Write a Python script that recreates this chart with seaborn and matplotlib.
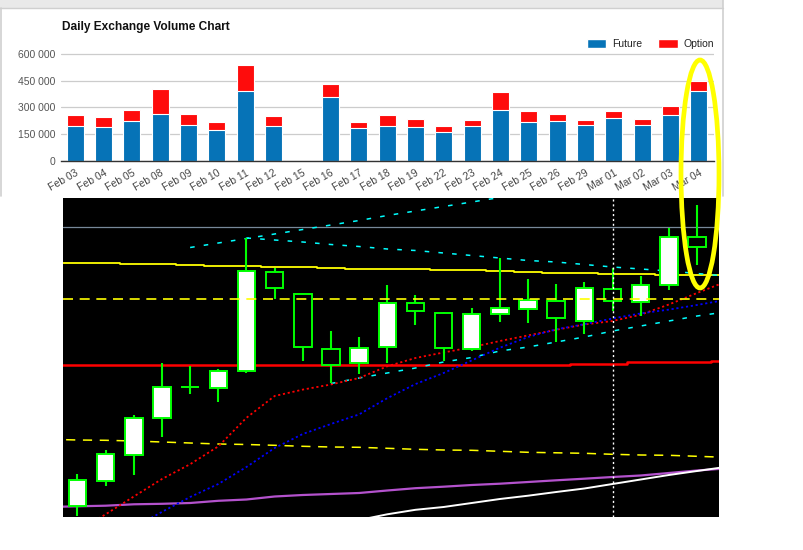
import numpy as np
import pandas as pd
import seaborn as sns
import matplotlib.pyplot as plt
from matplotlib.patches import Patch, Ellipse, Rectangle

# ---- volume data (top chart) ----
dates = ["Feb 03", "Feb 04", "Feb 05", "Feb 08", "Feb 09", "Feb 10", "Feb 11", "Feb 12",
         "Feb 15", "Feb 16", "Feb 17", "Feb 18", "Feb 19", "Feb 22", "Feb 23", "Feb 24",
         "Feb 25", "Feb 26", "Feb 29", "Mar 01", "Mar 02", "Mar 03", "Mar 04"]
future = [198000, 192000, 226000, 265000, 205000, 176000, 394000, 198000,
          0, 359000, 183000, 198000, 192000, 163000, 198000, 287000,
          220000, 226000, 203000, 242000, 203000, 259000, 392000]
option = [59000, 54000, 59000, 137000, 58000, 42000, 141000, 54000,
          0, 70000, 35000, 59000, 43000, 33000, 31000, 98000,
          59000, 37000, 26000, 37000, 32000, 48000, 54000]

# ---- price data (candles) ----
opens = [94, 119.3, 145, 182.3, 212.7, 212.3, 229.3, 327.7, 306, 251, 237.3, 253.3,
         297, 286.7, 251, 286.3, 291.3, 298.7, 279.3, 311, 297.7, 314.7, 363]
highs = [126, 150, 185, 237, 234.3, 231.3, 362, 332, 306, 269, 263, 315,
         305, 288, 291.7, 341.7, 321, 316, 317.7, 332, 324, 372.3, 395]
lows = [84.3, 114.3, 125.3, 163.3, 206.3, 198.3, 227.3, 300.7, 239.3, 217, 226, 236.7,
        275, 239.3, 249.3, 278.3, 277.3, 258.3, 266.3, 289.3, 284.3, 310.3, 335.3]
closes = [120, 146, 182, 213, 212.7, 229, 328.7, 311.7, 253.3, 235, 251.7, 296.7,
          289.3, 252.3, 286, 291.7, 300, 282.3, 311.7, 299.3, 314.7, 363, 352.7]

# ---- indicators, one value per bar, index -1 .. 23 ----
ind_idx = list(range(-1, 24))
ma_fast = [np.nan, 69, 85.7, 103.5, 121, 135.8, 153.6, 182.2, 204, 210.4, 215.5, 222, 233.7,
           242, 247.5, 252.8, 259, 264.6, 270.2, 275.5, 279, 285.3, 295.5, 307, 318]
ma_slow = [np.nan, 41, 57, 72.4, 88.1, 103, 116, 133, 152, 166, 176, 185.6, 201.8,
           215.9, 227, 239.6, 252.3, 263, 270.7, 275.8, 281.5, 286.6, 290.4, 295, 300]
band_up = [np.nan] * 5 + [352.5, 357, 361.5, 366, 370.5, 375, 379.5, 384.5, 389, 393.5,
                          398, 402.5, 407] + [np.nan] * 7
band_mid = [np.nan] * 7 + [362, 360, 358, 355.5, 353.5, 351, 349.5, 347, 344.5, 342, 339.5,
                           338, 335.5, 333, 331, 329, 326.5, 324]
band_low = [np.nan] * 10 + [216.5, 222, 227, 232, 238, 242.5, 249, 253, 258, 263, 269,
                            274, 279, 284, 288]
yellow_hi = [337.3, 337.3, 336.7, 335.7, 335.7, 334.7, 334, 334, 333, 333, 332, 331.3, 331.3,
             331, 329.7, 329.7, 328.7, 328, 327.3, 326.7, 326, 326, 324.7, 324.7, 324.7]
yellow_lo = [160.7, 160, 159.7, 159, 158, 157, 156, 155.5, 154.7, 153.7, 153, 152.7, 151.7,
             150.7, 150, 149.7, 148.7, 147.7, 147.2, 146.7, 145.7, 145, 144.7, 143.7, 142.7]
red_level = [235] * 19 + [236.5, 236.5, 238, 238, 238, 239.3]
purple = [93, 93.7, 94.3, 95.7, 96.2, 97, 99.2, 100.5, 103.5, 105, 106, 107, 109.5, 111.8,
          113.3, 115, 116.3, 118, 119.7, 121.3, 123, 124.5, 127, 129.5, 131.5]
white_ln = [np.nan] * 11 + [80, 85.7, 90.2, 93, 97, 101, 104.3, 108, 111.5, 116, 120.5,
                            125, 129, 133]
gray_level = 372.7
dash_level = 300.7
marker_bar = 19

sns.set_style("white")
plt.rcParams['font.family'] = ['Liberation Sans', 'DejaVu Sans']

W, H = 804, 550
fig = plt.figure(figsize=(W / 100, H / 100), dpi=100)
fig.patch.set_facecolor("white")

# background frame of the volume panel (pixel coords)
bg = fig.add_axes([0, 0, 1, 1], zorder=-5)
bg.set_xlim(0, W)
bg.set_ylim(H, 0)
bg.axis("off")
bg.add_patch(Rectangle((0, 0), 723, 8, facecolor="#e9e9e9", edgecolor="none"))
bg.plot([0, 723], [8, 8], color="#cfcfcf", lw=1)
bg.plot([0.8, 0.8], [8, 196], color="#cfcfcf", lw=1.2)
bg.plot([723, 723], [0, 196], color="#cfcfcf", lw=1.2)

# ---- volume bars ----
ax1 = fig.add_axes([61 / W, 1 - 161.3 / H, 653 / W, 108 / H])
df = pd.DataFrame({"date": dates, "future": future, "option": option})
df["total"] = df["future"] + df["option"]
sns.barplot(data=df, x="date", y="total", color="#fe0c0c", saturation=1, width=0.6,
            edgecolor="white", linewidth=0.8, ax=ax1)
sns.barplot(data=df, x="date", y="future", color="#0673b7", saturation=1, width=0.6,
            edgecolor="white", linewidth=0.8, ax=ax1)
ax1.set_xlim(-0.505, 22.54)
ax1.set_ylim(0, 602000)
ax1.set_yticks([0, 150000, 300000, 450000, 600000])
ax1.set_yticklabels([f"{v:,}".replace(",", " ") for v in [0, 150000, 300000, 450000, 600000]])
ax1.set_xlabel("")
ax1.set_ylabel("")
ax1.yaxis.grid(True, color="#cccccc", lw=0.9)
ax1.set_axisbelow(True)
for s in ["left", "right", "top"]:
    ax1.spines[s].set_visible(False)
ax1.spines["bottom"].set_color("#333333")
ax1.spines["bottom"].set_linewidth(1.0)
ax1.tick_params(axis="y", length=0, pad=4, labelsize=7.5, labelcolor="#555555")
ax1.tick_params(axis="x", length=0, pad=5, labelsize=7.5, labelcolor="#444444")
plt.setp(ax1.get_xticklabels(), rotation=30, ha="right", rotation_mode="anchor")
handles = [Patch(facecolor="#0673b7"), Patch(facecolor="#fe0c0c")]
ax1.legend(handles, ["Future", "Option"], ncol=2, loc="center right",
           bbox_to_anchor=(1.0, 1.085), frameon=False, fontsize=7.5, handlelength=1.9,
           handleheight=0.95, handletextpad=0.5, columnspacing=1.6, borderpad=0,
           borderaxespad=0, labelcolor="#222222")
fig.text(62 / W, 1 - 21 / H, "Daily Exchange Volume Chart", fontsize=8.6,
         fontweight="bold", color="#111111", va="top", ha="left")

# ---- candlestick panel ----
ax2 = fig.add_axes([62.7 / W, 1 - 516.7 / H, 656.3 / W, 319 / H])
ax2.set_facecolor("black")
x = np.arange(len(opens))

ax2.axhline(gray_level, color="#778899", lw=0.9, zorder=1)


def draw_line(vals, color, lw, ls="-", steps=False, z=2):
    d = pd.DataFrame({"i": ind_idx, "v": vals}).dropna()
    kw = {"drawstyle": "steps-mid"} if steps else {}
    sns.lineplot(data=d, x="i", y="v", ax=ax2, color=color, lw=lw, linestyle=ls,
                 legend=False, zorder=z, **kw)


draw_line(yellow_hi, "#ffff00", 1.3, steps=True)
draw_line(red_level, "#ff0000", 1.8, steps=True)
draw_line(purple, "#b452cd", 1.6)
draw_line(white_ln, "#ffffff", 1.4)
draw_line(yellow_lo, "#ffff00", 1.1, ls=(0, (6, 5)))
draw_line(band_up, "#00ffff", 1.1, ls=(0, (3, 6)))
draw_line(band_mid, "#00ffff", 1.1, ls=(0, (3, 6)))
draw_line(band_low, "#00ffff", 1.1, ls=(0, (3, 6)))
draw_line(ma_fast, "#ff0000", 1.3, ls=(0, (1.2, 1.5)))
draw_line(ma_slow, "#0000ff", 1.3, ls=(0, (1.2, 1.5)))

ax2.vlines(x, lows, highs, color="#00ff00", lw=1.5, zorder=3)
o = np.array(opens)
c = np.array(closes)
fill = ["white" if cc >= oo else "black" for oo, cc in zip(o, c)]
ax2.bar(x, np.abs(c - o), bottom=np.minimum(o, c), width=0.62, color=fill,
        edgecolor="#00ff00", linewidth=1.4, zorder=4)

ax2.axhline(dash_level, color="#ffff00", lw=1.2, ls=(0, (6, 4)), zorder=5)
ax2.axvline(marker_bar, color="white", lw=1.0, ls=(0, (1.5, 2)), zorder=5)

ax2.set_xlim(-0.525, 22.78)
ax2.set_ylim(83.3, 402.3)
ax2.set_xticks([])
ax2.set_yticks([])
ax2.set_xlabel("")
ax2.set_ylabel("")
for s in ax2.spines.values():
    s.set_visible(False)

# ---- highlight ellipse over the last bar ----
fg = fig.add_axes([0, 0, 1, 1], zorder=10)
fg.set_xlim(0, W)
fg.set_ylim(H, 0)
fg.axis("off")
fg.patch.set_alpha(0)
fg.add_patch(Ellipse((700, 174), 38, 228, fill=False, edgecolor="#ffff00", lw=3.4))

fig.savefig("out.png", dpi=100)
